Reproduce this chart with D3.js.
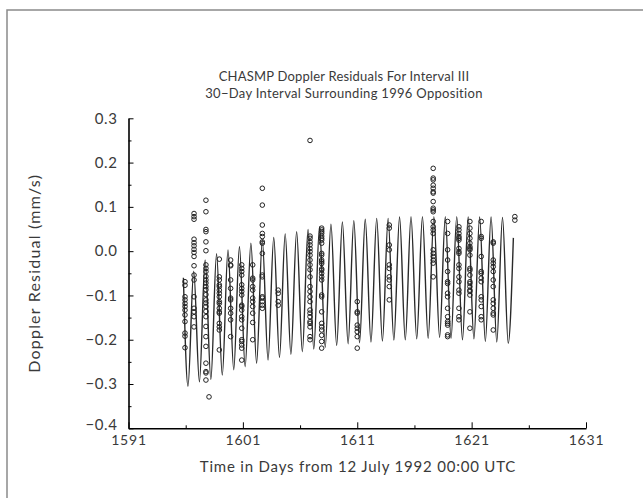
<!DOCTYPE html>
<html>
<head>
<meta charset="utf-8">
<script src="https://cdn.jsdelivr.net/npm/d3@7"></script>
<style>
  body { margin: 0; background: #fff; }
  text { font-family: Lato, "DejaVu Sans", sans-serif; fill: #3a3a3a; }
</style>
</head>
<body>
<div id="chart"></div>
<script>
// model curve: extrema (peaks / troughs)
const curveDays = [1595.8, 1596.2, 1596.7, 1597.2, 1597.7, 1598.2, 1598.7, 1599.2, 1599.7, 1600.2,
  1600.7, 1601.2, 1601.7, 1602.2, 1602.7, 1603.2, 1603.7, 1604.2, 1604.7, 1605.2,
  1605.7, 1606.2, 1606.7, 1607.2, 1607.7, 1608.2, 1608.7, 1609.2, 1609.7, 1610.2,
  1610.7, 1611.2, 1611.7, 1612.2, 1612.7, 1613.2, 1613.7, 1614.2, 1614.7, 1615.2,
  1615.7, 1616.2, 1616.7, 1617.2, 1617.7, 1618.2, 1618.7, 1619.2, 1619.7, 1620.2,
  1620.7, 1621.2, 1621.7, 1622.2, 1622.7, 1623.2, 1623.7, 1624.2, 1624.65];
const curveValues = [-0.06, -0.305, -0.045, -0.295, -0.02, -0.290, -0.006, -0.280, 0.003, -0.268,
  0.010, -0.261, 0.018, -0.253, 0.025, -0.246, 0.031, -0.240, 0.039, -0.233,
  0.044, -0.227, 0.049, -0.221, 0.055, -0.217, 0.061, -0.213, 0.066, -0.209,
  0.069, -0.207, 0.072, -0.205, 0.074, -0.203, 0.074, -0.201, 0.077, -0.200,
  0.078, -0.198, 0.078, -0.197, 0.078, -0.195, 0.078, -0.197, 0.078, -0.200,
  0.077, -0.198, 0.077, -0.204, 0.077, -0.205, 0.076, -0.208, 0.03];

// observed residuals, one column per tracking pass
const obsDays = [1595.94, 1596.73, 1597.77, 1598.04, 1598.94, 1599.93, 1600.90, 1601.86, 1602.70,
  1604.09, 1606.87, 1607.89, 1611.00, 1613.80, 1617.64, 1618.90, 1619.89, 1620.85,
  1621.84, 1622.89, 1624.78];
const obsValues = [
  [-0.069, -0.077, -0.103, -0.110, -0.118, -0.125, -0.133, -0.144, -0.159, -0.185, -0.192, -0.218],
  [0.085, 0.078, 0.072, 0.027, 0.019, 0.012, 0.004, -0.003, -0.012, -0.033, -0.054, -0.065, -0.103, -0.129, -0.137, -0.148, -0.171],
  [0.115, 0.089, 0.049, 0.044, 0.021, 0.001, -0.031, -0.039, -0.046, -0.057, -0.065, -0.072, -0.080, -0.087, -0.098, -0.110, -0.117, -0.125, -0.136, -0.148, -0.170, -0.193, -0.215, -0.253, -0.272, -0.275, -0.291],
  [-0.329],
  [-0.018, -0.058, -0.065, -0.076, -0.080, -0.088, -0.095, -0.103, -0.114, -0.118, -0.129, -0.137, -0.140, -0.163, -0.171, -0.178, -0.223],
  [-0.020, -0.031, -0.033, -0.065, -0.084, -0.106, -0.110, -0.129, -0.140, -0.155, -0.193],
  [-0.031, -0.039, -0.046, -0.054, -0.076, -0.084, -0.091, -0.099, -0.122, -0.125, -0.133, -0.148, -0.155, -0.174, -0.200, -0.204, -0.212, -0.219, -0.246],
  [-0.031, -0.061, -0.065, -0.080, -0.088, -0.106, -0.114, -0.125, -0.140, -0.161, -0.200],
  [0.142, 0.104, 0.059, 0.040, 0.033, 0.021, 0.018, -0.005, -0.054, -0.058, -0.103, -0.106, -0.114, -0.122, -0.129],
  [-0.088, -0.095, -0.114, -0.122],
  [0.250, 0.034, 0.029, 0.021, 0.014, 0.006, -0.001, -0.009, -0.020, -0.031, -0.042, -0.058, -0.080, -0.091, -0.103, -0.114, -0.133, -0.140, -0.148, -0.159, -0.163, -0.171, -0.193, -0.200],
  [0.052, 0.048, 0.044, 0.040, 0.034, 0.029, 0.025, 0.018, -0.005, -0.009, -0.020, -0.024, -0.028, -0.040, -0.043, -0.050, -0.058, -0.065, -0.099, -0.103, -0.137, -0.163, -0.171, -0.178, -0.190, -0.204, -0.219],
  [-0.114, -0.137, -0.140, -0.167, -0.174, -0.182, -0.193, -0.219],
  [0.059, 0.052, 0.014, 0.003, -0.031, -0.039, -0.058, -0.065, -0.080, -0.110],
  [0.187, 0.165, 0.161, 0.149, 0.142, 0.134, 0.131, 0.112, 0.097, 0.093, 0.089, 0.067, 0.055, 0.048, 0.040, 0.003, -0.005, -0.012, -0.020, -0.027, -0.058],
  [0.067, 0.040, 0.003, -0.020, -0.046, -0.069, -0.073, -0.095, -0.103, -0.129, -0.148, -0.159, -0.163, -0.167, -0.189, -0.193],
  [0.055, 0.048, 0.040, 0.033, 0.029, 0.025, 0.006, -0.001, -0.005, -0.031, -0.039, -0.058, -0.069, -0.088, -0.095, -0.129, -0.148, -0.155],
  [0.067, 0.052, 0.040, 0.029, 0.018, 0.010, 0.006, 0.003, -0.009, -0.039, -0.043, -0.054, -0.069, -0.073, -0.080, -0.088, -0.091, -0.099, -0.137, -0.174],
  [0.067, 0.033, 0.029, -0.012, -0.046, -0.050, -0.061, -0.069, -0.103, -0.110, -0.125, -0.148, -0.155],
  [0.021, 0.018, -0.020, -0.027, -0.035, -0.046, -0.065, -0.080, -0.110, -0.118, -0.129, -0.140, -0.144, -0.178],
  [0.078, 0.070]
];

const xTicks = [1591, 1601, 1611, 1621, 1631];
const yTicks = [0.3, 0.2, 0.1, 0.0, -0.1, -0.2, -0.3, -0.4];

const width = 643;
const height = 498;

const svg = d3.select("#chart").append("svg")
  .attr("width", width)
  .attr("height", height);

// page frame
svg.append("rect")
  .attr("x", 7)
  .attr("y", 10)
  .attr("width", width)
  .attr("height", height)
  .style("fill", "none")
  .style("stroke", "#8a8a8a")
  .style("stroke-width", 1.5);

const x = d3.scaleLinear().domain([1591, 1631]).range([128.5, 586]);
const y = d3.scaleLinear().domain([-0.4, 0.3]).range([428.3, 118.3]);

// minor ticks
const xMinor = xTicks.slice(0, -1).map((d) => d + 5);
const yMinor = yTicks.slice(0, -1).map((d) => d - 0.05);

svg.append("g")
  .attr("transform", `translate(0,${y(-0.4)})`)
  .call(d3.axisBottom(x).tickValues(xMinor).tickSize(-3).tickSizeOuter(0).tickFormat(""))
  .call((g) => g.select(".domain").remove());

svg.append("g")
  .attr("transform", `translate(${x(1591)},0)`)
  .call(d3.axisLeft(y).tickValues(yMinor).tickSize(-3).tickSizeOuter(0).tickFormat(""))
  .call((g) => g.select(".domain").remove());

const xAxis = svg.append("g")
  .attr("transform", `translate(0,${y(-0.4)})`)
  .call(d3.axisBottom(x).tickValues(xTicks).tickSize(-6).tickSizeOuter(0).tickPadding(7).tickFormat(d3.format("d")));

const yAxis = svg.append("g")
  .attr("transform", `translate(${x(1591)},0)`)
  .call(d3.axisLeft(y).tickValues(yTicks).tickSize(-5).tickSizeOuter(0).tickPadding(11).tickFormat(d3.format(".1f")));

[xAxis, yAxis].forEach((a) => {
  a.select(".domain").style("stroke", "#000").style("stroke-width", 1.6);
  a.selectAll(".tick text").style("font-size", "15px").style("fill", "#3a3a3a");
});
yAxis.selectAll(".tick text").style("letter-spacing", "0.6px");
xAxis.selectAll(".tick text").style("font-size", "14px").style("letter-spacing", "0.8px");
svg.selectAll(".tick line").style("stroke", "#000").style("stroke-width", 1);
yAxis.select(".tick:last-of-type text").attr("dy", "0.1em");

// model curve
const curveData = curveDays.map((d, i) => ({ day: d, value: curveValues[i] }));
svg.append("path")
  .datum(curveData)
  .attr("d", d3.line().x((d) => x(d.day)).y((d) => y(d.value)).curve(d3.curveMonotoneX))
  .style("fill", "none")
  .style("stroke", "#2a2a2a")
  .style("stroke-width", 1.4);

// observations
const obsData = [];
obsDays.forEach((day, i) => {
  obsValues[i].forEach((v) => obsData.push({ day: day, value: v }));
});
svg.append("g").selectAll("circle").data(obsData).enter().append("circle")
  .attr("cx", (d) => x(d.day))
  .attr("cy", (d) => y(d.value))
  .attr("r", 2.3)
  .style("fill", "none")
  .style("stroke", "#222")
  .style("stroke-width", 1);

// titles
svg.append("text")
  .attr("x", 344)
  .attr("y", 81)
  .attr("text-anchor", "middle")
  .style("font-size", "13px")
  .style("letter-spacing", "0.2px")
  .text("CHASMP Doppler Residuals For Interval III");

svg.append("text")
  .attr("x", 344)
  .attr("y", 98)
  .attr("text-anchor", "middle")
  .style("font-size", "13px")
  .style("letter-spacing", "0.3px")
  .text("30\u2212Day Interval Surrounding 1996 Opposition");

svg.append("text")
  .attr("x", 358)
  .attr("y", 472)
  .attr("text-anchor", "middle")
  .style("font-size", "15px")
  .style("letter-spacing", "0.8px")
  .text("Time in Days from 12 July 1992 00:00 UTC");

svg.append("text")
  .attr("transform", `translate(40,${(y(0.3) + y(-0.4)) / 2}) rotate(-90)`)
  .attr("text-anchor", "middle")
  .style("font-size", "16px")
  .style("letter-spacing", "1.2px")
  .text("Doppler Residual (mm/s)");
</script>
</body>
</html>
